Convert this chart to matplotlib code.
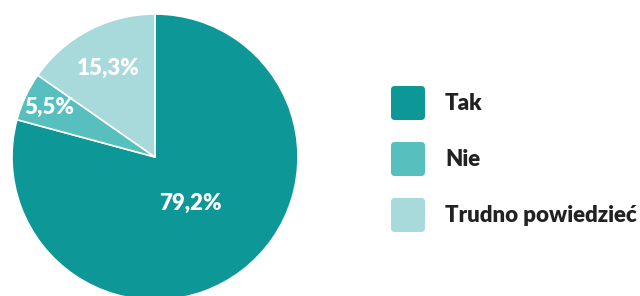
import numpy as np
import matplotlib
matplotlib.use("Agg")
import matplotlib.pyplot as plt
from matplotlib.patches import FancyBboxPatch

labels = ["Tak", "Nie", "Trudno powiedzieć"]
values = [79.2, 5.5, 15.3]
pct_text = ["79,2%", "5,5%", "15,3%"]
colors = ["#0E9797", "#58BFBF", "#A8D9DB"]
label_dist = [0.41, 0.82, 0.70]

plt.rcParams['font.family'] = ['Lato', 'DejaVu Sans']

W, H = 640, 296
fig = plt.figure(figsize=(W / 100, H / 100), dpi=100)

# pie axes: centre (155, 157) px, radius 143 px
cx, cy, r = 155, 157, 143
ax = fig.add_axes([(cx - r) / W, (H - cy - r) / H, 2 * r / W, 2 * r / H])
wedges, _ = ax.pie(values, colors=colors, startangle=90, counterclock=False,
                   radius=1, wedgeprops=dict(edgecolor="white", linewidth=1.2))
ax.set_xlim(-1, 1)
ax.set_ylim(-1, 1)
ax.set_aspect("equal")
ax.axis("off")

for w, txt, d in zip(wedges, pct_text, label_dist):
    ang = np.deg2rad((w.theta1 + w.theta2) / 2)
    ax.text(d * np.cos(ang), d * np.sin(ang), txt, ha="center", va="center",
            color="white", fontsize=16, fontweight=800)

# legend
lx, ly0, step, size = 391, 86, 56, 34
for i, (lab, col) in enumerate(zip(labels, colors)):
    y = ly0 + i * step
    box = FancyBboxPatch((lx / W, 1 - (y + size) / H), size / W, size / H,
                         boxstyle="round,pad=0,rounding_size=0.006",
                         transform=fig.transFigure, facecolor=col,
                         edgecolor="none", mutation_aspect=W / H)
    fig.patches.append(box)
    fig.text(445 / W, 1 - (y + size / 2) / H, lab, ha="left", va="center",
             color="#222222", fontsize=16, fontweight=800)

fig.savefig("out.png", dpi=100)
